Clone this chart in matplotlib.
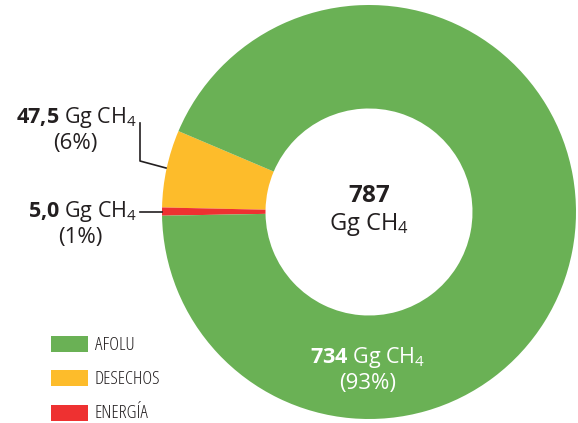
import matplotlib
matplotlib.use("Agg")
import matplotlib.pyplot as plt
from matplotlib.patches import Rectangle
from matplotlib import font_manager

plt.rcParams["font.family"] = ["Open Sans", "DejaVu Sans"]
plt.rcParams["mathtext.fontset"] = "custom"
plt.rcParams["mathtext.rm"] = "Open Sans"
plt.rcParams["mathtext.bf"] = "Open Sans:bold"
plt.rcParams["mathtext.it"] = "Open Sans:italic"

# data (counterclockwise order starting from the top of the yellow slice)
sectors = ["DESECHOS", "ENERGÍA", "AFOLU"]
values = [47.5, 5.0, 734]
colors = ["#FDBC2B", "#EE3131", "#6AB155"]
legend_order = ["AFOLU", "DESECHOS", "ENERGÍA"]
total = 787

names = {f.name for f in font_manager.fontManager.ttflist}
legend_family = "Liberation Sans Narrow" if "Liberation Sans Narrow" in names else "Open Sans"

fig = plt.figure(figsize=(5.78, 4.23), dpi=100)
W, H = 578, 423

# donut axes: center (369, 212) px, radius 207 px
ax = fig.add_axes([162 / W, 4 / H, 414 / W, 414 / H])
ax.pie(values, colors=colors, startangle=157, counterclock=True,
       wedgeprops=dict(width=0.5, linewidth=0))
ax.set_xlim(-1, 1)
ax.set_ylim(-1, 1)
ax.set_aspect("equal")
ax.axis("off")

# overlay axes in pixel coordinates for labels
ov = fig.add_axes([0, 0, 1, 1])
ov.set_xlim(0, W)
ov.set_ylim(H, 0)
ov.axis("off")

dark = "#231f20"

# centre total
ov.text(369, 196, f"$\\mathbf{{{total}}}$", ha="center", va="center", fontsize=17.5, color=dark)
ov.text(369, 225, "Gg CH$_4$", ha="center", va="center", fontsize=17, color=dark)

# AFOLU label inside ring
ov.text(368, 357, r"$\mathbf{734}$ Gg CH$_4$", ha="center", va="center", fontsize=15.5, color="white")
ov.text(368, 383, "(93%)", ha="center", va="center", fontsize=16, color="white")

# DESECHOS label
ov.text(137, 118, r"$\mathbf{47{,}5}$ Gg CH$_4$", ha="right", va="center", fontsize=15.5, color=dark)
ov.text(75, 143, "(6%)", ha="center", va="center", fontsize=16, color=dark)
ov.plot([140, 140, 166], [123, 161, 168], color=dark, lw=1.2)

# ENERGIA label
ov.text(137, 212, r"$\mathbf{5{,}0}$ Gg CH$_4$", ha="right", va="center", fontsize=15.5, color=dark)
ov.text(80, 238, "(1%)", ha="center", va="center", fontsize=16, color=dark)
ov.plot([140, 162], [212, 212], color=dark, lw=1.2)

# legend
leg_colors = dict(zip(sectors, colors))
for i, name in enumerate(legend_order):
    y = 336 + i * 34.5
    ov.add_patch(Rectangle((51, y), 37, 16, facecolor=leg_colors[name], edgecolor="none"))
    ov.text(95, y + 8.5, name, ha="left", va="center", fontsize=13.5,
            family=[legend_family, "DejaVu Sans"], fontstretch="condensed",
            fontweight="medium", color=dark)

fig.savefig("out.png", dpi=100)
